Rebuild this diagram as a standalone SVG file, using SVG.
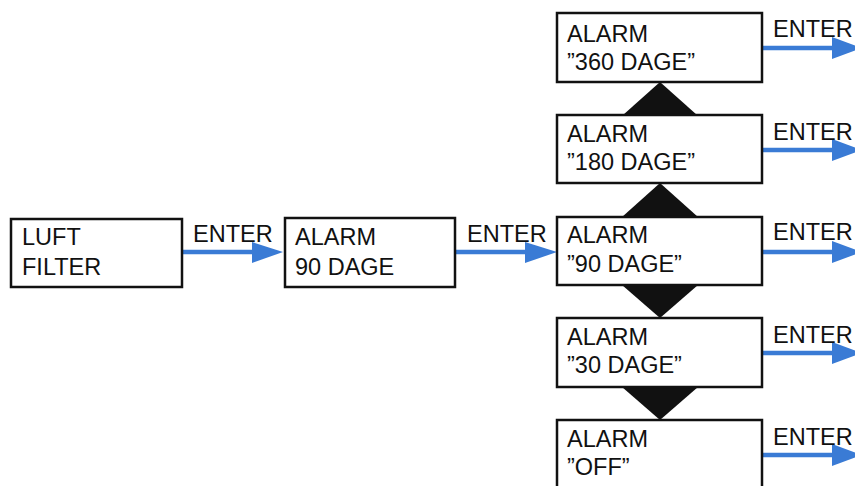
<svg xmlns="http://www.w3.org/2000/svg" width="855" height="486" viewBox="0 0 855 486">
<defs>
<style>
.box{fill:#fff;stroke:#111;stroke-width:2.5}
.t{font-family:"Liberation Sans",Arial,sans-serif;font-size:23.5px;fill:#111}
.ln{stroke:#3a7bd5;stroke-width:4.5;fill:none}
.hd{fill:#3a7bd5}
.tri{fill:#111}
</style>
</defs>
<rect width="855" height="486" fill="#fff"/>
<g id="connectors">
<polygon class="tri" points="660,82 623,115 697,115"/>
<polygon class="tri" points="660,183 622,217 698,217"/>
<polygon class="tri" points="622,285 698,285 660,318"/>
<polygon class="tri" points="622,387 698,387 660,420"/>
<line class="ln" x1="183" y1="252" x2="254" y2="252"/>
<polygon class="hd" points="252,242 283,252 252,263"/>
<text class="t" x="193" y="242">ENTER</text>
<line class="ln" x1="456" y1="252" x2="527" y2="252"/>
<polygon class="hd" points="525,242 557,252 525,263"/>
<text class="t" x="467" y="242">ENTER</text>
<g id="out">
<line class="ln" x1="763" y1="48" x2="834" y2="48"/>
<polygon class="hd" points="832,37 862,48 832,59"/>
<text class="t" x="773" y="37">ENTER</text>
<line class="ln" x1="763" y1="150" x2="834" y2="150"/>
<polygon class="hd" points="832,139 862,150 832,161"/>
<text class="t" x="773" y="140">ENTER</text>
<line class="ln" x1="763" y1="252" x2="834" y2="252"/>
<polygon class="hd" points="832,241 862,252 832,263"/>
<text class="t" x="773" y="240">ENTER</text>
<line class="ln" x1="763" y1="353" x2="834" y2="353"/>
<polygon class="hd" points="832,342 862,353 832,364"/>
<text class="t" x="773" y="343">ENTER</text>
<line class="ln" x1="763" y1="455" x2="834" y2="455"/>
<polygon class="hd" points="832,444 862,455 832,466"/>
<text class="t" x="773" y="445">ENTER</text>
</g>
</g>
<g id="luft">
<rect class="box" x="11" y="219" width="171" height="68"/>
<text class="t" x="22" y="245">LUFT</text>
<text class="t" x="22" y="275">FILTER</text>
</g>
<g id="alarm90">
<rect class="box" x="285" y="218" width="170" height="69"/>
<text class="t" x="295" y="245">ALARM</text>
<text class="t" x="295" y="275">90 DAGE</text>
</g>
<g id="a360">
<rect class="box" x="557" y="13" width="205" height="69"/>
<text class="t" x="567" y="42">ALARM</text>
<text class="t" x="567" y="70">”360 DAGE”</text>
</g>
<g id="a180">
<rect class="box" x="557" y="115" width="205" height="68"/>
<text class="t" x="567" y="142">ALARM</text>
<text class="t" x="567" y="170">”180 DAGE”</text>
</g>
<g id="a90">
<rect class="box" x="557" y="217" width="205" height="68"/>
<text class="t" x="567" y="243">ALARM</text>
<text class="t" x="567" y="272">”90 DAGE”</text>
</g>
<g id="a30">
<rect class="box" x="557" y="318" width="205" height="69"/>
<text class="t" x="567" y="345">ALARM</text>
<text class="t" x="567" y="373">”30 DAGE”</text>
</g>
<g id="aoff">
<rect class="box" x="557" y="420" width="205" height="80"/>
<text class="t" x="567" y="447">ALARM</text>
<text class="t" x="567" y="475">”OFF”</text>
</g>
</svg>
